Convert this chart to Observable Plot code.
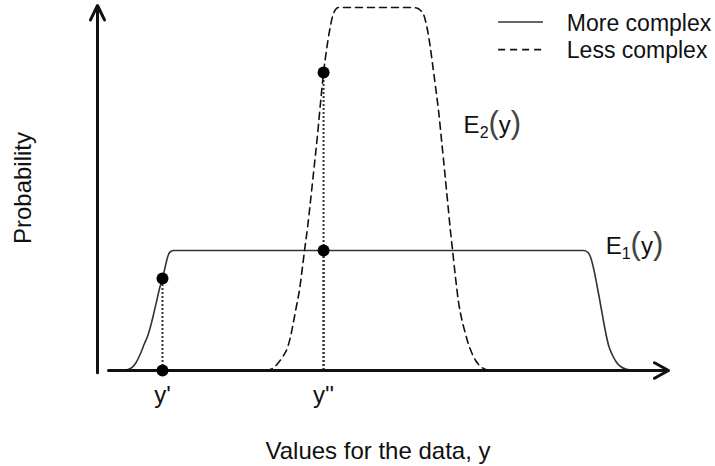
<!DOCTYPE html>
<html><head><meta charset="utf-8">
<script src="https://cdn.jsdelivr.net/npm/d3@7"></script>
<script src="https://cdn.jsdelivr.net/npm/@observablehq/plot@0.6"></script>
<style>body{margin:0;background:#fff}</style>
</head><body><div id="chart"></div>
<script>
// E1(y): "More complex" model (solid)
const e1Values = [1.94, 4.05, 5.11, 5.81, 6.69, 7.57, 8.27, 8.80, 9.33, 9.86, 10.39, 10.92, 11.44, 11.97, 12.32, 12.68, 13.03, 13.38,
  85.56, 86.27, 86.80, 87.32, 87.85, 88.38, 88.91, 89.44, 89.96, 90.67, 91.37, 92.08, 92.96, 93.84, 95.60];
const e1Prob = [0, 0, 0.0014, 0.0055, 0.0193, 0.0468, 0.0744, 0.0937, 0.1212, 0.1543, 0.1901, 0.2259, 0.2534, 0.2893, 0.3113, 0.3251, 0.3292, 0.3306,
  0.3306, 0.3264, 0.3113, 0.2810, 0.2397, 0.1956, 0.1488, 0.1047, 0.0689, 0.0413, 0.0220, 0.0110, 0.0041, 0.0014, 0];

// E2(y): "Less complex" model (dashed)
const e2Values = [29.58, 30.81, 31.87, 32.75, 33.45, 33.98, 34.51, 35.04, 35.56, 36.09, 36.44, 36.97, 37.50, 38.03, 38.73, 39.26, 39.79, 40.32, 40.85, 41.37, 41.90, 42.43,
  55.11, 56.16, 56.87, 57.39, 57.92, 58.45, 58.98, 59.51, 60.04, 60.56, 61.09, 61.62, 62.15, 62.50, 63.03, 63.56, 64.08, 64.61, 65.14, 65.85, 66.55, 67.43, 68.84];
const e2Prob = [0, 0.0055, 0.0220, 0.0413, 0.0634, 0.0937, 0.1350, 0.1791, 0.2231, 0.2865, 0.3306, 0.3939, 0.4683, 0.5455, 0.6501, 0.7383, 0.8209, 0.8843, 0.9366, 0.9752, 0.9945, 1.0,
  1.0, 0.9986, 0.9917, 0.9807, 0.9504, 0.9036, 0.8430, 0.7796, 0.7135, 0.6336, 0.5510, 0.4656, 0.3802, 0.3306, 0.2534, 0.1873, 0.1433, 0.1102, 0.0799, 0.0496, 0.0275, 0.0110, 0];

// highlighted points
const pointValues = [11.44, 11.44, 39.79, 39.79];
const pointProb = [0.2534, 0, 0.8209, 0.3306];

// tick labels on the value axis
const tickValues = [11.44, 39.79];
const tickLabels = ["y'", "y''"];

// curve labels
const curveLabels = ["E2(y)", "E1(y)"];
const curveLabelValues = [64.44, 89.44];
const curveLabelProb = [0.6556, 0.3223];

// legend
const legendLabels = ["More complex", "Less complex"];
const legendProb = [0.960, 0.884];

const xAxisStart = 1.94;
const xMax = 100.5, yMax = 1.0055;

const e1 = e1Values.map((v, i) => ({v, p: e1Prob[i]}));
const e2 = e2Values.map((v, i) => ({v, p: e2Prob[i]}));
const pts = pointValues.map((v, i) => ({v, p: pointProb[i]}));
const ticks = tickValues.map((v, i) => ({v, label: tickLabels[i]}));
const cl = curveLabels.map((t, i) => ({t, v: curveLabelValues[i], p: curveLabelProb[i]}));
const legend = legendLabels.map((t, i) => ({t, p: legendProb[i]}));

const font = '"Liberation Sans", Arial, Helvetica, sans-serif';
const ink = "#111";

const chart = Plot.plot({
  width: 715, height: 466,
  marginLeft: 97, marginRight: 47, marginTop: 5, marginBottom: 96,
  x: {domain: [0, xMax], axis: null},
  y: {domain: [0, yMax], axis: null},
  style: {fontFamily: font, fontSize: "24px", background: "#fff", color: ink, overflow: "visible"},
  marks: [
    Plot.ruleX(pts.filter(d => d.p > 0), {x: "v", y1: 0, y2: "p", stroke: "#333", strokeWidth: 2, strokeDasharray: "2,2"}),
    Plot.line(e1, {x: "v", y: "p", curve: "monotone-x", stroke: "#333", strokeWidth: 1.6}),
    Plot.line(e2, {x: "v", y: "p", curve: "monotone-x", stroke: ink, strokeWidth: 1.6, strokeDasharray: "7,5"}),
    Plot.arrow([{x1: 0, y1: -0.006, x2: 0, y2: yMax}], {x1: "x1", y1: "y1", x2: "x2", y2: "y2", stroke: ink, strokeWidth: 3, headLength: 8, headAngle: 52}),
    Plot.arrow([{x1: xAxisStart, y1: 0, x2: xMax, y2: 0}], {x1: "x1", y1: "y1", x2: "x2", y2: "y2", stroke: ink, strokeWidth: 3, headLength: 8, headAngle: 58}),
    Plot.dot(pts, {x: "v", y: "p", r: 6, fill: "#000", stroke: "none"}),
    Plot.text(ticks, {x: "v", text: "label", frameAnchor: "bottom", lineAnchor: "bottom", dy: 32, fill: ink}),
    Plot.text(cl, {x: "v", y: "p", text: "t", textAnchor: "start", lineAnchor: "bottom", fill: ink}),
    Plot.ruleY(legend.slice(0, 1), {y: "p", x1: 70.6, x2: 78.5, stroke: "#333", strokeWidth: 1.6}),
    Plot.ruleY(legend.slice(1, 2), {y: "p", x1: 70.6, x2: 78.5, stroke: ink, strokeWidth: 1.6, strokeDasharray: "7,5"}),
    Plot.text(legend, {x: 82.6, y: "p", text: "t", textAnchor: "start", lineAnchor: "middle", dy: 1.5, fontSize: 23, fill: ink}),
    Plot.text(["Values for the data, y"], {frameAnchor: "bottom", lineAnchor: "bottom", textAnchor: "middle", dx: -5, dy: 88, fill: ink}),
    Plot.text(["Probability"], {frameAnchor: "left", textAnchor: "middle", lineAnchor: "middle", rotate: -90, dx: -74, fill: ink})
  ]
});

// typeset E1(y), E2(y) with subscript and tall parentheses
d3.select(chart).selectAll("text").each(function () {
  const m = /^E(\d)\(y\)$/.exec(this.textContent);
  if (!m) return;
  const s = d3.select(this);
  s.text("");
  s.append("tspan").text("E");
  s.append("tspan").attr("font-size", 16).attr("dy", 5).text(m[1]);
  s.append("tspan").attr("font-size", 31).attr("dy", -5).attr("fill", "#444").text("(");
  s.append("tspan").text("y");
  s.append("tspan").attr("font-size", 31).attr("fill", "#444").text(")");
});

document.getElementById("chart").appendChild(chart);
</script>
</body></html>
